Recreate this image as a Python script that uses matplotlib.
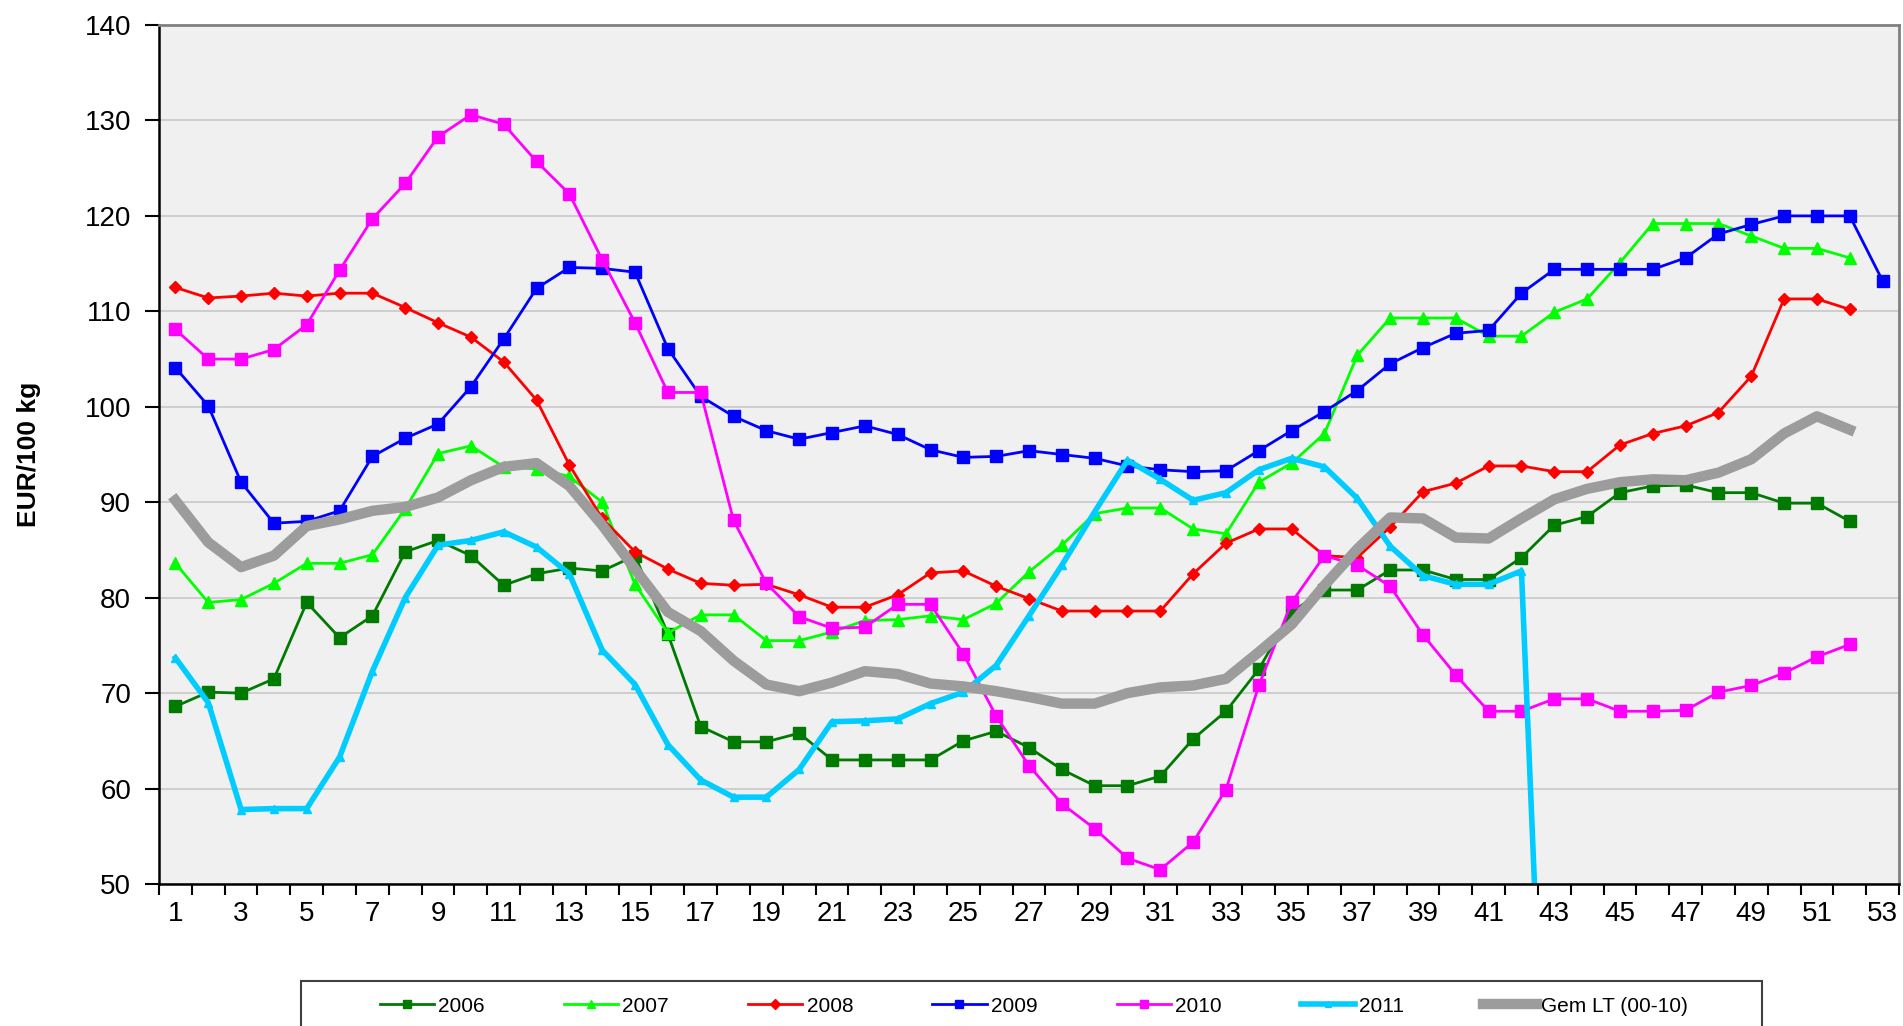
import matplotlib
matplotlib.use('Agg')
import matplotlib.pyplot as plt
from matplotlib.patches import Rectangle
import numpy as np

plt.rcParams['font.family'] = ['Liberation Sans', 'DejaVu Sans']

# weekly prices, EUR/100 kg
y2006 = [68.6, 70.1, 70.0, 71.5, 79.5, 75.8, 78.1, 84.8, 86.0, 84.4, 81.3, 82.5, 83.1, 82.8, 84.4, 76.2,
         66.5, 64.9, 64.9, 65.8, 63.0, 63.0, 63.0, 63.0, 65.0, 66.0, 64.3, 62.0, 60.3, 60.3, 61.3, 65.2,
         68.1, 72.5, 78.5, 80.8, 80.8, 82.9, 82.9, 81.9, 81.9, 84.2, 87.6, 88.5, 91.0, 91.7, 91.8, 91.0,
         91.0, 89.9, 89.9, 88.0]
y2007 = [83.6, 79.5, 79.8, 81.5, 83.6, 83.6, 84.5, 89.3, 95.1, 95.9, 93.7, 93.5, 92.7, 90.0, 81.4, 76.3,
         78.2, 78.2, 75.5, 75.5, 76.4, 77.6, 77.7, 78.1, 77.7, 79.4, 82.7, 85.5, 88.8, 89.4, 89.4, 87.2,
         86.7, 92.1, 94.1, 97.2, 105.4, 109.3, 109.3, 109.3, 107.4, 107.4, 109.9, 111.3, 115.1, 119.2,
         119.2, 119.2, 117.9, 116.6, 116.6, 115.6]
y2008 = [112.5, 111.4, 111.6, 111.9, 111.6, 111.9, 111.9, 110.4, 108.8, 107.3, 104.7, 100.7, 93.9, 88.3,
         84.8, 83.0, 81.5, 81.3, 81.4, 80.3, 79.0, 79.0, 80.3, 82.6, 82.8, 81.2, 79.9, 78.6, 78.6, 78.6,
         78.6, 82.5, 85.7, 87.2, 87.2, 84.4, 84.2, 87.4, 91.1, 92.0, 93.8, 93.8, 93.2, 93.2, 96.0, 97.2,
         98.0, 99.4, 103.2, 111.3, 111.3, 110.2]
y2009 = [104.1, 100.1, 92.1, 87.8, 88.0, 89.1, 94.8, 96.7, 98.2, 102.1, 107.1, 112.4, 114.6, 114.5,
         114.1, 106.1, 101.1, 99.0, 97.5, 96.6, 97.3, 98.0, 97.1, 95.5, 94.7, 94.8, 95.4, 95.0, 94.6,
         93.8, 93.4, 93.2, 93.3, 95.4, 97.5, 99.5, 101.7, 104.5, 106.2, 107.7, 108.0, 111.9, 114.4,
         114.4, 114.4, 114.4, 115.6, 118.1, 119.1, 120.0, 120.0, 120.0, 113.2]
y2010 = [108.1, 105.0, 105.0, 106.0, 108.6, 114.3, 119.7, 123.4, 128.3, 130.6, 129.6, 125.7, 122.3,
         115.4, 108.8, 101.5, 101.5, 88.1, 81.5, 78.0, 76.8, 76.9, 79.3, 79.3, 74.1, 67.6, 62.4, 58.4,
         55.8, 52.7, 51.5, 54.4, 59.9, 70.8, 79.5, 84.4, 83.4, 81.2, 76.1, 71.9, 68.1, 68.1, 69.4, 69.4,
         68.1, 68.1, 68.2, 70.1, 70.8, 72.1, 73.8, 75.1]
y2011 = [73.7, 69.0, 57.8, 57.9, 57.9, 63.3, 72.3, 80.0, 85.5, 86.0, 86.9, 85.3, 82.5, 74.5, 70.9, 64.6,
         60.9, 59.1, 59.1, 62.0, 67.0, 67.1, 67.3, 68.9, 70.1, 72.9, 78.1, 83.4, 89.0, 94.4, 92.4, 90.2,
         91.0, 93.4, 94.6, 93.7, 90.4, 85.4, 82.3, 81.4, 81.4, 82.8, 0.0]
gem_lt = [90.2, 85.8, 83.2, 84.4, 87.5, 88.2, 89.1, 89.5, 90.5, 92.3, 93.7, 94.1, 91.7, 87.6, 83.0, 78.5,
          76.5, 73.4, 70.9, 70.2, 71.1, 72.3, 72.0, 71.0, 70.7, 70.2, 69.6, 68.9, 68.9, 70.0, 70.6, 70.8,
          71.5, 74.3, 77.2, 81.3, 85.1, 88.4, 88.3, 86.3, 86.2, 88.3, 90.3, 91.4, 92.1, 92.4, 92.3, 93.1,
          94.5, 97.2, 99.0, 97.6]

week_labels = [str(w) for w in range(1, 54, 2)]

fig = plt.figure(figsize=(19.03, 10.26), dpi=100)
ax = fig.add_axes([159 / 1903, 1 - 884 / 1026, 1740 / 1903, 859 / 1026])
ax.set_facecolor('#f0f0f0')

def weeks(vals):
    return np.arange(1, len(vals) + 1)

ax.plot(weeks(y2006), y2006, color='#007a00', lw=2, marker='s', ms=8, label='2006')
ax.plot(weeks(y2007), y2007, color='#00ff00', lw=2, marker='^', ms=8, label='2007')
ax.plot(weeks(y2008), y2008, color='#ff0000', lw=2, marker='D', ms=6, label='2008')
ax.plot(weeks(y2009), y2009, color='#0000ff', lw=2, marker='s', ms=8, label='2009')
ax.plot(weeks(y2010), y2010, color='#ff00ff', lw=2, marker='s', ms=8, label='2010')
ax.plot(weeks(y2011), y2011, color='#00ccff', lw=4, marker='^', ms=6, label='2011')
ax.plot(weeks(gem_lt), gem_lt, color='#9c9c9c', lw=7.5, label='Gem LT (00-10)')

ax.set_xlim(0.5, 53.5)
ax.set_ylim(50, 140)
ax.set_yticks(range(50, 141, 10))
ax.grid(axis='y', color='#c8c8c8', lw=1.2)
ax.set_axisbelow(True)

ax.set_xticks(np.arange(0.5, 54, 1))
ax.set_xticklabels([])
ax.set_xticks(range(1, 54, 2), minor=True)
ax.set_xticklabels(week_labels, minor=True)
ax.tick_params(axis='x', which='major', length=8, width=1.5, direction='out')
ax.tick_params(axis='x', which='minor', length=0, pad=12, labelsize=20)
ax.tick_params(axis='y', length=10, width=1.5, direction='out', pad=10, labelsize=20)

for s in ['left', 'bottom']:
    ax.spines[s].set_color('black')
    ax.spines[s].set_linewidth(1.8)
for s in ['top', 'right']:
    ax.spines[s].set_color('#808080')
    ax.spines[s].set_linewidth(2)

ax.set_ylabel('EUR/100 kg', fontsize=19, fontweight='bold')
ax.yaxis.set_label_coords(-0.068, 0.5)

# legend box at the bottom (partly cut off by the figure edge)
fig.add_artist(Rectangle((301 / 1903, -0.02), 1461 / 1903, 0.02 + 1 - 981 / 1026,
                         transform=fig.transFigure, facecolor='white',
                         edgecolor='#404040', lw=1.5))
fig.legend(*ax.get_legend_handles_labels(), loc='center left',
           bbox_to_anchor=(380 / 1903, 1 - 1006 / 1026), ncol=7, frameon=False,
           fontsize=15, handlelength=2.6, handletextpad=0.2, columnspacing=3.8,
           borderpad=0, borderaxespad=0, markerscale=0.8)

fig.savefig('out.png', dpi=100)
